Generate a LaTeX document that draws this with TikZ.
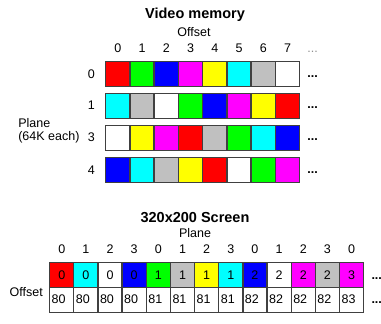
\documentclass[tikz,border=0pt]{standalone}
\usepackage{fontspec}
\setmainfont{Liberation Sans}
\usepackage{tikz}
\usetikzlibrary{positioning}
\definecolor{cR}{HTML}{FF0000}
\definecolor{cG}{HTML}{00FF00}
\definecolor{cB}{HTML}{0000FF}
\definecolor{cM}{HTML}{FF00FF}
\definecolor{cY}{HTML}{FFFF00}
\definecolor{cC}{HTML}{00FFFF}
\definecolor{cS}{HTML}{C0C0C0}
\definecolor{cW}{HTML}{FFFFFF}
\definecolor{cEdge}{HTML}{404040}
\definecolor{cDots}{HTML}{909090}
\tikzset{
  cell/.style    = {rectangle, draw=cEdge, fill=#1, line width=1.3pt,
                    minimum width=24.2pt, minimum height=25pt, inner sep=0pt,
                    anchor=north west, font=\fontsize{12.5}{14}\selectfont},
  cell/.default  = cW,
  offcell/.style = {cell, text width=20pt, align=left},
  lab/.style     = {inner sep=0pt, font=\fontsize{12.5}{14}\selectfont},
  ttl/.style     = {inner sep=0pt, font=\fontsize{14.5}{17}\selectfont\bfseries},
  more/.style    = {inner sep=0pt, font=\fontsize{12.5}{14}\selectfont\bfseries},
}

\begin{document}
\begin{tikzpicture}[x=1pt, y=-1pt]
  \useasboundingbox[fill=white] (0,0) rectangle (381,324);

  % video memory planes
  \node[ttl] (vm) at (195,15) {Video memory};
  \node[lab] (vmoff) at (194,32) {Offset};
  \foreach \r/\y/\cols in {0/61/{cR,cG,cB,cM,cY,cC,cS,cW},
                           1/92.5/{cC,cS,cW,cG,cB,cM,cY,cR},
                           3/124.5/{cW,cY,cM,cR,cS,cG,cC,cB},
                           4/157/{cB,cC,cS,cY,cR,cW,cG,cM}} {
    \foreach \c [count=\i from 0] in \cols
      \node[cell=\c] (m\r-\i) at ({105+24.25*\i},\y) {};
    \node[lab, left=10pt of m\r-0] (r\r) {\r};
    \node[more, right=7pt of m\r-7, yshift=-2pt] (d\r) {...};
  }
  \foreach \i in {0,...,7}
    \node[lab, above=8pt of m0-\i] (h\i) {\i};
  \node[lab, text=cDots, right=16pt of h7.base east, anchor=base west] (hd) {...};
  \node[lab, left=8pt of r3] (pk) {(64K each)};
  \node[lab, above=4pt of pk.north west, anchor=south west] (pl) {Plane};

  % screen pixels
  \node[ttl] (scr) at (195,217.5) {320x200 Screen};
  \node[lab] (scrpl) at (195,233) {Plane};
  \foreach \c/\p [count=\i from 0] in {cR/0,cC/0,cW/0,cB/0,cG/1,cS/1,cY/1,
                                       cC/1,cB/2,cW/2,cM/2,cS/2,cM/3} {
    \node[cell=\c] (s\i) at ({49+24.15*\i},262) {\p};
    \node[offcell] (o\i) at ({49+24.15*\i},286.5) {8\p};
    \pgfmathtruncatemacro\q{mod(\i,4)}
    \node[lab, above=8pt of s\i] (q\i) {\q};
  }
  \node[lab, left=6pt of o0, yshift=8pt] (ol) {Offset};
  \node[more, right=7pt of s12, yshift=-3pt] (ds) {...};
  \node[more, right=7pt of o12, yshift=-3pt] (do) {...};
\end{tikzpicture}
\end{document}
